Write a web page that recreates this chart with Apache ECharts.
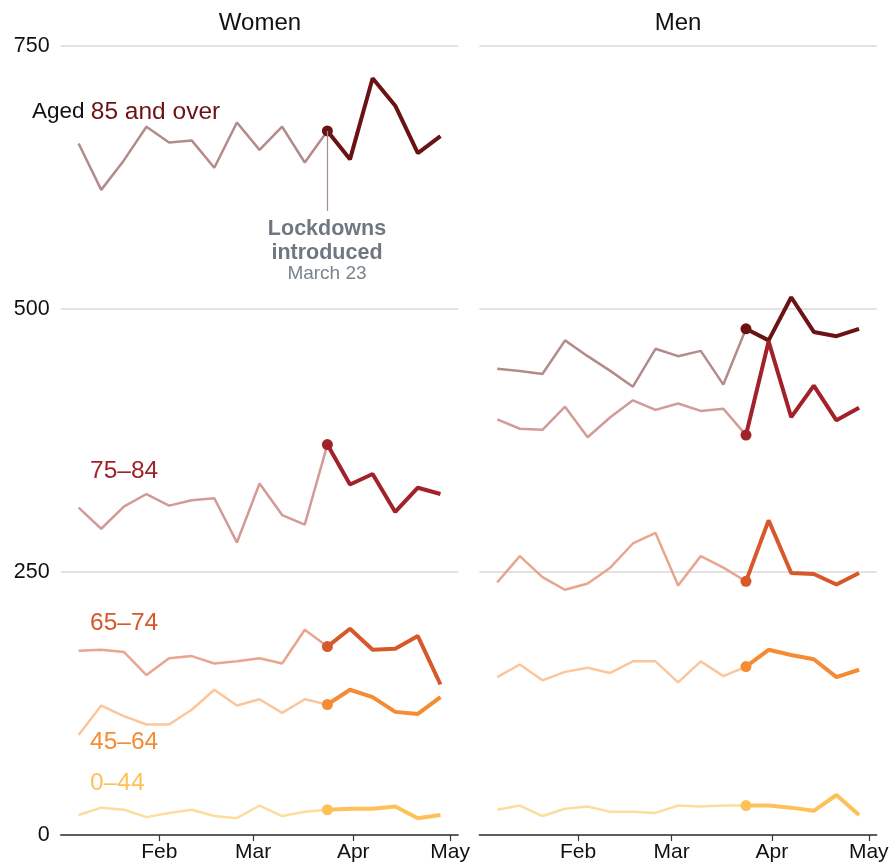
<!DOCTYPE html>
<html>
<head>
<meta charset="utf-8">
<script src="https://cdn.jsdelivr.net/npm/echarts@6/dist/echarts.min.js"></script>
<style>
  html, body { margin: 0; padding: 0; background: #fff; }
  #chart { width: 892px; height: 866px; }
</style>
</head>
<body>
<div id="chart"></div>
<script>
// weekly points (plotted dates) and month ticks
const weeks = ["2020-01-07", "2020-01-14", "2020-01-21", "2020-01-28", "2020-02-04", "2020-02-11",
  "2020-02-18", "2020-02-25", "2020-03-03", "2020-03-10", "2020-03-17", "2020-03-24",
  "2020-03-31", "2020-04-07", "2020-04-14", "2020-04-21", "2020-04-28"];
const monthTicks = ["2020-02-01", "2020-03-01", "2020-04-01", "2020-05-01"];
const monthNames = ["Jan", "Feb", "Mar", "Apr", "May", "Jun"];
const lockdownIndex = 11;

const ageGroups = ["85 and over", "75–84", "65–74", "45–64", "0–44"];

const women85 = [657, 613, 641, 673, 658, 660, 634, 677, 651, 673, 639, 669, 642, 719, 693, 648, 664];
const women75 = [311, 291, 312, 324, 313, 318, 320, 278, 334, 304, 295, 371, 333, 343, 307, 330, 324];
const women65 = [175, 176, 174, 152, 168, 170, 163, 165, 168, 163, 195, 179, 196, 176, 177, 189, 143];
const women45 = [95, 123, 113, 105, 105, 119, 138, 123, 129, 116, 129, 124, 138, 131, 117, 115, 131];
const women0 = [19, 26, 24, 17, 21, 24, 18, 16, 28, 18, 22, 24, 25, 25, 27, 16, 19];

const men85 = [443, 441, 438, 470, 455, 441, 426, 462, 455, 460, 428, 481, 470, 511, 478, 474, 481];
const men75 = [395, 386, 385, 407, 378, 397, 413, 404, 410, 403, 405, 380, 469, 397, 427, 394, 406];
const men65 = [240, 265, 245, 233, 239, 254, 277, 287, 237, 265, 254, 241, 299, 249, 248, 238, 249];
const men45 = [150, 162, 147, 155, 159, 154, 165, 165, 145, 165, 151, 160, 176, 171, 167, 150, 157];
const men0 = [24, 28, 18, 25, 27, 22, 22, 21, 28, 27, 28, 28, 28, 26, 23, 38, 19];

const darkColors = ["#6a1214", "#a2222a", "#d6582b", "#f58b32", "#fec159"];
const lightColors = ["#b38b8b", "#d49a97", "#e8a68f", "#fbc69c", "#fedca0"];

const FONT = 'Helvetica, Arial, "Liberation Sans", sans-serif';

// day number counted from Jan 1 2020 (UTC, so no timezone drift)
function day(s) {
  const d = new Date(s.length > 10 ? s + "Z" : s + "T00:00:00Z");
  return (d.getTime() - Date.UTC(2020, 0, 1)) / 86400000;
}

const xMin = day("2020-01-01T11:00:00");
const xMax = day("2020-05-03T11:00:00");

function makeSeries(panelIndex, values, g) {
  const pts = values.map((v, i) => [day(weeks[i]), v]);
  const before = {
    type: "line",
    name: ageGroups[g] + " before",
    xAxisIndex: panelIndex,
    yAxisIndex: panelIndex,
    data: pts.slice(0, lockdownIndex + 1),
    showSymbol: false,
    symbol: "none",
    silent: true,
    z: 2,
    lineStyle: { color: lightColors[g], width: 2.5 },
    animation: false
  };
  const after = {
    type: "line",
    name: ageGroups[g] + " after",
    xAxisIndex: panelIndex,
    yAxisIndex: panelIndex,
    data: pts.slice(lockdownIndex),
    symbol: "circle",
    showSymbol: true,
    symbolSize: (val, params) => (params.dataIndex === 0 ? 11 : 0),
    itemStyle: { color: darkColors[g] },
    silent: true,
    z: 3,
    lineStyle: { color: darkColors[g], width: 4 },
    animation: false
  };
  return [before, after];
}

const womenData = [women85, women75, women65, women45, women0];
const menData = [men85, men75, men65, men45, men0];

let series = [];
womenData.forEach((vals, g) => { series = series.concat(makeSeries(0, vals, g)); });
menData.forEach((vals, g) => { series = series.concat(makeSeries(1, vals, g)); });

// lockdown marker line below the women 85+ dot
series[0].markLine = {
  silent: true,
  symbol: "none",
  animation: false,
  label: { show: false },
  lineStyle: { color: "#a38f8f", width: 1.2, type: "solid" },
  data: [[
    { coord: [day(weeks[lockdownIndex]), women85[lockdownIndex]] },
    { coord: [day(weeks[lockdownIndex]), 593] }
  ]]
};

const tickDays = monthTicks.map(day);

function xAxis(gridIndex) {
  return {
    type: "value",
    gridIndex: gridIndex,
    min: xMin,
    max: xMax,
    axisLine: { show: true, onZero: false, lineStyle: { color: "#333", width: 1.5 } },
    axisTick: {
      show: true,
      length: 6,
      lineStyle: { color: "#333", width: 1.2 },
      customValues: tickDays
    },
    axisLabel: {
      show: true,
      margin: 7,
      color: "#111",
      fontSize: 21,
      fontFamily: FONT,
      customValues: tickDays,
      formatter: (v) => monthNames[new Date(Date.UTC(2020, 0, 1) + v * 86400000).getUTCMonth()]
    },
    splitLine: { show: false }
  };
}

function yAxis(gridIndex, showLabels) {
  return {
    type: "value",
    gridIndex: gridIndex,
    min: 0,
    max: 750,
    interval: 250,
    axisLine: { show: false },
    axisTick: { show: false },
    axisLabel: {
      show: showLabels,
      margin: 11,
      color: "#111",
      fontSize: 21.5,
      fontFamily: FONT
    },
    splitLine: { show: true, lineStyle: { color: "#d9d9d9", width: 1.5 } }
  };
}

const labelFont = (size, weight) => (weight || "normal") + " " + size + "px " + FONT;

const graphics = [
  { type: "text", x: 260, y: 23, style: { text: "Women", font: labelFont(24), fill: "#111", textAlign: "center", textVerticalAlign: "middle" } },
  { type: "text", x: 678, y: 23, style: { text: "Men", font: labelFont(24), fill: "#111", textAlign: "center", textVerticalAlign: "middle" } },
  {
    type: "text", x: 32, y: 112,
    style: {
      text: "{a|Aged }{b|" + ageGroups[0] + "}",
      textVerticalAlign: "middle",
      rich: {
        a: { font: labelFont(22.5), fill: "#111" },
        b: { font: labelFont(24.5), fill: darkColors[0] }
      }
    }
  },
  { type: "text", x: 90, y: 471, style: { text: ageGroups[1], font: labelFont(24.5), fill: darkColors[1], textVerticalAlign: "middle" } },
  { type: "text", x: 90, y: 623.5, style: { text: ageGroups[2], font: labelFont(24.5), fill: darkColors[2], textVerticalAlign: "middle" } },
  { type: "text", x: 90, y: 742, style: { text: ageGroups[3], font: labelFont(24.5), fill: darkColors[3], textVerticalAlign: "middle" } },
  { type: "text", x: 90, y: 783.5, style: { text: ageGroups[4], font: labelFont(24.5), fill: darkColors[4], textVerticalAlign: "middle" } },
  { type: "text", x: 327, y: 229, style: { text: "Lockdowns", font: labelFont(21.5, "bold"), fill: "#6f7780", textAlign: "center", textVerticalAlign: "middle" } },
  { type: "text", x: 327, y: 253.5, style: { text: "introduced", font: labelFont(21.5, "bold"), fill: "#6f7780", textAlign: "center", textVerticalAlign: "middle" } },
  { type: "text", x: 327, y: 274, style: { text: "March 23", font: labelFont(19), fill: "#7b838b", textAlign: "center", textVerticalAlign: "middle" } }
];

const option = {
  backgroundColor: "#fff",
  animation: false,
  grid: [
    { left: 60.7, top: 45.7, width: 397.4, height: 789.3, containLabel: false },
    { left: 479.3, top: 45.7, width: 397.4, height: 789.3, containLabel: false }
  ],
  xAxis: [xAxis(0), xAxis(1)],
  yAxis: [yAxis(0, true), yAxis(1, false)],
  tooltip: { show: false },
  series: series,
  graphic: graphics
};

const myChart = echarts.init(document.getElementById("chart"), null, { renderer: "canvas" });
myChart.setOption(option);
</script>
</body>
</html>
